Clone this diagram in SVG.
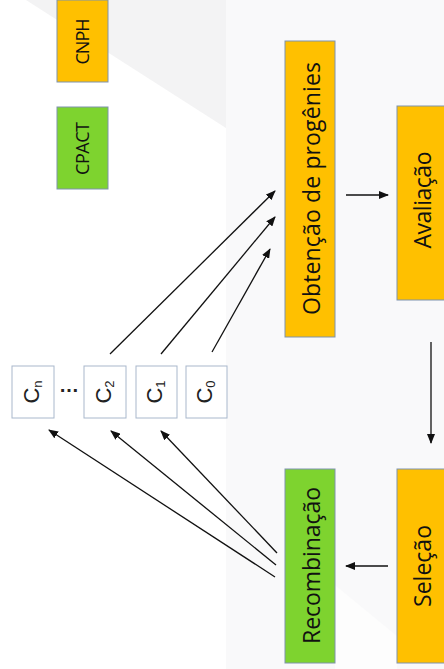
<svg xmlns="http://www.w3.org/2000/svg" width="444" height="669" viewBox="0 0 444 669">
<defs>
<style>
.box{stroke:#7f93ad;stroke-width:1}
.org{fill:#ffc000}
.grn{fill:#7ed32f}
.cb{fill:#ffffff;stroke:#a9b8cc;stroke-width:1}
.lbl{font-family:"Open Sans","DejaVu Sans",sans-serif;font-size:23px;fill:#111;text-anchor:middle;dominant-baseline:central}
.sm{font-family:"Open Sans","DejaVu Sans",sans-serif;font-size:18px;fill:#111;text-anchor:middle;dominant-baseline:central}
.c{font-family:"Liberation Sans",Arial,sans-serif;font-size:22px;fill:#222;text-anchor:middle}
.ln{stroke:#111;stroke-width:1.3;fill:none;marker-end:url(#ah)}
</style>
<marker id="ah" markerUnits="userSpaceOnUse" markerWidth="10" markerHeight="8" refX="9" refY="4" orient="auto">
<path d="M0,0 L10,4 L0,8 Z" fill="#111"/>
</marker>
</defs>
<rect width="444" height="669" fill="#ffffff"/>
<rect x="226" y="0" width="218" height="669" fill="#f9f9fa"/>
<polygon points="26,0 226,0 226,128" fill="#f3f3f4"/>
<polygon points="335,585 397,636 397,669 335,669" fill="#fdfdfd"/>
<g id="cnph"><rect class="box org" x="57" y="0" width="51" height="82"/><text class="sm" transform="translate(82,41.5) rotate(-90)" textLength="46">CNPH</text></g>
<g id="cpact"><rect class="box grn" x="57" y="107" width="51" height="82"/><text class="sm" transform="translate(82,148.5) rotate(-90)" textLength="53">CPACT</text></g>
<g id="obtencao"><rect class="box org" x="285" y="41" width="50" height="296"/><text class="lbl" transform="translate(311,188.5) rotate(-90)" textLength="253">Obtenção de progênies</text></g>
<g id="avaliacao"><rect class="box org" x="397" y="106" width="50" height="194"/><text class="lbl" transform="translate(422,200) rotate(-90)" textLength="97">Avaliação</text></g>
<g id="recombinacao"><rect class="box grn" x="285" y="469" width="50" height="194"/><text class="lbl" transform="translate(311,565.5) rotate(-90)" textLength="157">Recombinação</text></g>
<g id="selecao"><rect class="box org" x="397" y="469" width="50" height="194"/><text class="lbl" transform="translate(422,566) rotate(-90)" textLength="82">Seleção</text></g>
<g id="cn"><rect class="cb" x="12" y="366" width="42" height="52"/><text class="c" transform="translate(39,392) rotate(-90)">C<tspan font-size="13" dy="3">n</tspan></text></g>
<text font-family="Liberation Sans,Arial,sans-serif" font-size="20" font-weight="bold" fill="#222" x="69" y="392" text-anchor="middle">…</text>
<g id="c2"><rect class="cb" x="84" y="366" width="42" height="52"/><text class="c" transform="translate(111,392) rotate(-90)">C<tspan font-size="13" dy="3">2</tspan></text></g>
<g id="c1"><rect class="cb" x="136" y="366" width="41" height="52"/><text class="c" transform="translate(162,392) rotate(-90)">C<tspan font-size="13" dy="3">1</tspan></text></g>
<g id="c0"><rect class="cb" x="186" y="366" width="41" height="52"/><text class="c" transform="translate(212,392) rotate(-90)">C<tspan font-size="13" dy="3">0</tspan></text></g>
<g id="connectors">
<line class="ln" x1="346" y1="195" x2="388" y2="195"/>
<line class="ln" x1="431" y1="342" x2="431" y2="443"/>
<line class="ln" x1="388" y1="566" x2="346" y2="566"/>
<line class="ln" x1="110" y1="354" x2="275" y2="191"/>
<line class="ln" x1="161" y1="354" x2="275" y2="217"/>
<line class="ln" x1="212" y1="352" x2="270" y2="249"/>
<line class="ln" x1="275" y1="577" x2="49" y2="430"/>
<line class="ln" x1="276" y1="565" x2="111" y2="431"/>
<line class="ln" x1="277" y1="553" x2="161" y2="431"/>
</g>
</svg>
